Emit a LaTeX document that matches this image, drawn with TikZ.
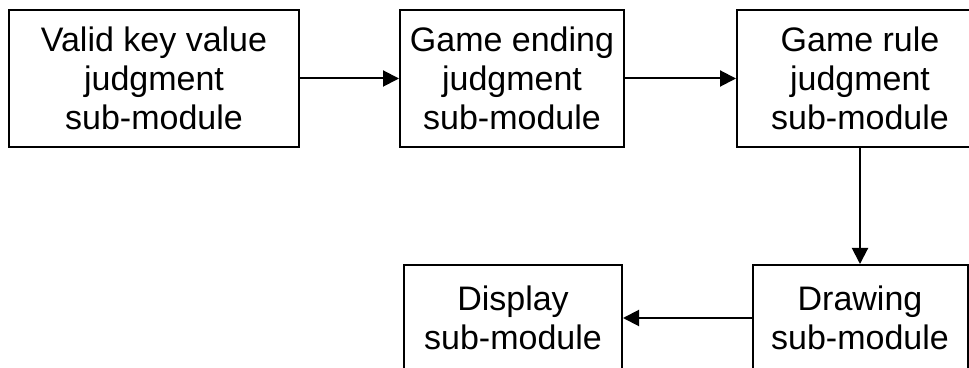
\documentclass[tikz,border=0pt]{standalone}
\usepackage{fontspec}
\setmainfont{Liberation Sans}
\usetikzlibrary{arrows.meta}
\tikzset{modbox/.style={draw,line width=1pt,align=center,inner sep=0pt,
  font=\fontsize{17}{19.5}\selectfont}}
\begin{document}
\begin{tikzpicture}[x=0.5pt,y=-0.5pt,>={Triangle[length=8pt,width=8pt]},line width=1pt]
        \path[use as bounding box,clip](0,0)rectangle(969,368);
        \node[modbox,minimum width=145pt,minimum height=68.5pt](valid)at(154,78.5){Valid key value\\judgment\\sub-module};
        \node[modbox,minimum width=112pt,minimum height=68.5pt](ending)at(512,78.5){Game ending\\judgment\\sub-module};
        \node[modbox,minimum width=123pt,minimum height=68.5pt](rule)at(860,78.5){Game rule\\judgment\\sub-module};
        \node[modbox,minimum width=107.5pt,minimum height=53pt](drawing)at(860,318){Drawing\\sub-module};
        \node[modbox,minimum width=109pt,minimum height=53pt](display)at(513,318){Display\\sub-module};
        \draw[->](valid)--(ending);
        \draw[->](ending)--(rule);
        \draw[->](rule)--(drawing);
        \draw[->](drawing)--(display);
        \end{tikzpicture}
\end{document}
